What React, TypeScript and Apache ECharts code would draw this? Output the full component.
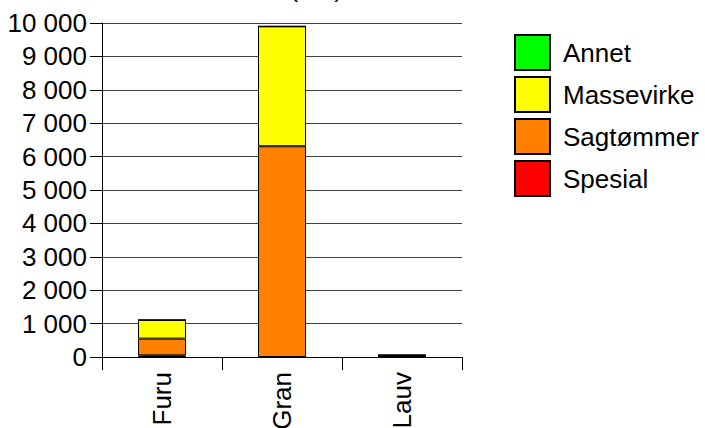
import React, { useEffect, useRef } from "react";
import * as echarts from "echarts";

const categories = ["Furu", "Gran", "Lauv"];
const legendOrder = ["Annet", "Massevirke", "Sagtømmer", "Spesial"];
const spesial = [50, 0, 0];
const sagtommer = [500, 6310, 30];
const massevirke = [560, 3590, 30];
const annet = [0, 0, 0];
const yTicks = [0, 1000, 2000, 3000, 4000, 5000, 6000, 7000, 8000, 9000, 10000];
const titleText = "Volum (m3)";

const colors: Record<string, string> = {
  Spesial: "#ff0000",
  "Sagtømmer": "#ff8000",
  Massevirke: "#ffff00",
  Annet: "#00ff00",
};

const fmt = (v: number) => {
  const s = String(Math.round(v));
  return s.replace(/\B(?=(\d{3})+(?!\d))/g, " ");
};

export default function App() {
  const ref = useRef<HTMLDivElement>(null);
  useEffect(() => {
    if (!ref.current) return;
    const chart = echarts.init(ref.current, undefined, { renderer: "svg" });
    const font = "'Liberation Sans', Arial, sans-serif";
    const mk = (name: string, data: number[]) => ({
      name,
      type: "bar",
      stack: "total",
      data,
      barWidth: "40%",
      itemStyle: { color: colors[name], borderColor: "#000", borderWidth: 1 },
    });
    chart.setOption({
      animation: false,
      graphic: [
        {
          type: "text",
          left: 210,
          top: -25,
          style: { text: titleText, fontSize: 26, fontFamily: font, fill: "#000" },
        },
      ],
      grid: {
        left: 102,
        right: 243,
        top: 23,
        bottom: 71,
        containLabel: false,
        outerBoundsMode: "none",
      },
      legend: {
        orient: "vertical",
        left: 509,
        top: 29,
        itemWidth: 35,
        itemHeight: 35,
        itemGap: 5,
        icon: "rect",
        data: legendOrder,
        textStyle: { fontSize: 26, fontFamily: font, color: "#000", padding: [0, 0, 0, 8] },
      },
      xAxis: {
        type: "category",
        data: categories,
        axisLine: { lineStyle: { color: "#000", width: 1 } },
        axisTick: { show: true, length: 13, alignWithLabel: false, lineStyle: { color: "#000" } },
        axisLabel: { rotate: 90, margin: 15, fontSize: 26, fontFamily: font, color: "#000" },
      },
      yAxis: {
        type: "value",
        min: yTicks[0],
        max: yTicks[yTicks.length - 1],
        interval: 1000,
        axisLine: { show: true, lineStyle: { color: "#000", width: 1 } },
        axisTick: { show: true, length: 12, lineStyle: { color: "#000" } },
        axisLabel: { margin: 15, fontSize: 26, fontFamily: font, color: "#000", formatter: fmt },
        splitLine: { show: true, lineStyle: { color: "#404040", width: 1 } },
      },
      series: [
        mk("Spesial", spesial),
        mk("Sagtømmer", sagtommer),
        mk("Massevirke", massevirke),
        mk("Annet", annet),
      ],
    });
    return () => chart.dispose();
  }, []);
  return (
    <div
      ref={ref}
      style={{ position: "absolute", left: 0, top: 0, width: 705, height: 428, overflow: "hidden" }}
    />
  );
}
